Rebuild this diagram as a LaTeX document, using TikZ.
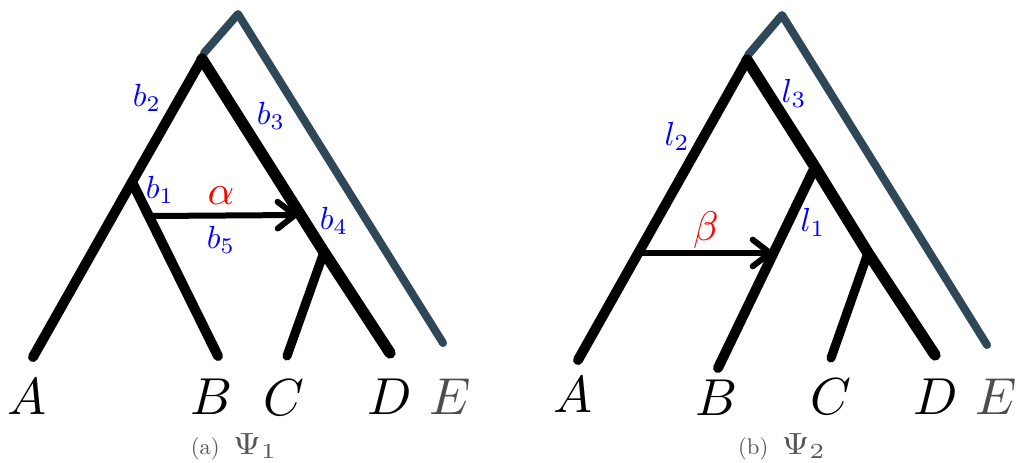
\documentclass[tikz,border=0pt]{standalone}
\usepackage{graphicx}
\usetikzlibrary{arrows.meta}
\definecolor{slate}{RGB}{47,72,88}
\definecolor{egray}{RGB}{77,77,77}
\definecolor{capgray}{RGB}{85,85,85}
\newcommand{\LeafT}[1]{\scalebox{3.9}{$#1$}}
\newcommand{\LabL}[1]{\scalebox{2.4}{$#1$}}
\newcommand{\LabR}[1]{\scalebox{2.5}{$#1$}}
\newcommand{\GreekT}[1]{\scalebox{3.1}{$#1$}}
\newcommand{\CapT}[2]{\scalebox{1.7}{#1}\hspace{10pt}\scalebox{2.7}[2.3]{$#2$}}
\begin{document}
\begin{tikzpicture}[x=0.75pt,y=-0.75pt,
  br/.style={line width=7.5pt, line cap=round, line join=round, black},
  thin br/.style={line width=6.8pt, line cap=round, black},
  thick br/.style={line width=8.5pt, line cap=round, line join=round, black},
  outg/.style={line width=6pt, line cap=round, line join=round, slate},
  hgt/.style={line width=4.5pt, line cap=round, black,
    -{Straight Barb[length=13pt, width=20pt, line width=4.5pt, round]}},
  leaf/.style={inner sep=0pt},
  lab/.style={text=blue, inner sep=0pt},
  gname/.style={text=red, inner sep=0pt},
  captext/.style={text=capgray, inner sep=0pt, anchor=base}
]
\useasboundingbox (0,0) rectangle (1016,462);
% ---------- left tree (a) ----------
\coordinate (aTop) at (238,14);
\coordinate (aR) at (202,59);
\coordinate (aRg) at (204,53);
\coordinate (aE) at (443,343);
\coordinate (aN1) at (132,182);
\coordinate (aA) at (33,357);
\coordinate (aB) at (218,356);
\coordinate (aN2) at (324,252);
\coordinate (aC) at (287,356);
\coordinate (aD) at (390,353);
\coordinate (aS) at (150,216);
\coordinate (aT) at (298,215);
\draw[outg] (aRg) -- (aTop) -- (aE);
\draw[br] (aA) -- (aN1) -- (aR);
\draw[br] (aN1) -- (aB);
\draw[thick br] (aR) -- (aN2) -- (aD);
\draw[thin br] (aN2) -- (aC);
\draw[hgt] (aS) -- (aT);
\node[lab] (b2) at (147,98) {\LabL{b_2}};
\node[lab] (b3) at (271,116) {\LabL{b_3}};
\node[lab] (b1) at (160,190) {\LabL{b_1}};
\node[gname] (al) at (221,196) {\GreekT{\alpha}};
\node[lab] (b5) at (221,240) {\LabL{b_5}};
\node[lab] (b4) at (334,221) {\LabL{b_4}};
\node[leaf] (lA) at (27,397) {\LeafT{A}};
\node[leaf] (lB) at (212,397) {\LeafT{B}};
\node[leaf] (lC) at (284,398) {\LeafT{C}};
\node[leaf] (lD) at (390,397) {\LeafT{D}};
\node[leaf, text=egray] (lE) at (450,397) {\LeafT{E}};
\node[captext] (capa) at (234,454) {\CapT{(a)}{\Psi_1}};
% ---------- right tree (b) ----------
\coordinate (bTop) at (782,15);
\coordinate (bR) at (747,60);
\coordinate (bRg) at (748,55);
\coordinate (bE) at (987,345);
\coordinate (bA) at (578,360);
\coordinate (bS) at (638,253);
\coordinate (bN1) at (815,167);
\coordinate (bN2) at (868,253);
\coordinate (bB) at (718,368);
\coordinate (bC) at (831,358);
\coordinate (bD) at (935,355);
\coordinate (bT) at (773,253);
\draw[outg] (bRg) -- (bTop) -- (bE);
\draw[br] (bA) -- (bR);
\draw[thick br] (bR) -- (bN1) -- (bN2) -- (bD);
\draw[br] (bN1) -- (bB);
\draw[thin br] (bN2) -- (bC);
\draw[hgt] (bS) -- (bT);
\node[lab] (l2) at (677,136) {\LabR{l_2}};
\node[lab] (l3) at (794,93) {\LabR{l_3}};
\node[lab] (l1) at (813,222) {\LabR{l_1}};
\node[gname] (be) at (706,230) {\GreekT{\beta}};
\node[leaf] (rA) at (573,395) {\LeafT{A}};
\node[leaf] (rB) at (717,398) {\LeafT{B}};
\node[leaf] (rC) at (831,397) {\LeafT{C}};
\node[leaf] (rD) at (936,397) {\LeafT{D}};
\node[leaf, text=egray] (rE) at (996,397) {\LeafT{E}};
\node[captext] (capb) at (782,454) {\CapT{(b)}{\Psi_2}};
\end{tikzpicture}
\end{document}
